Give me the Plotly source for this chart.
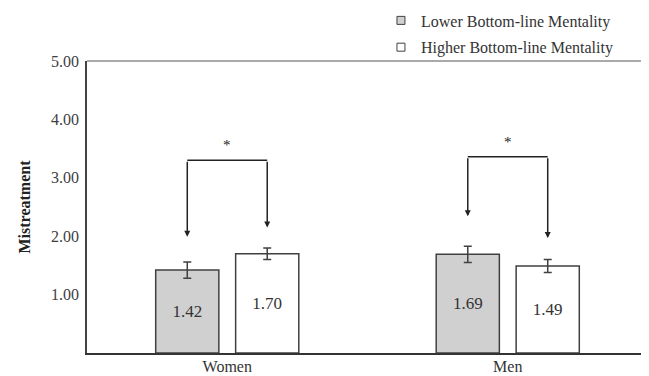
import plotly.graph_objects as go

# ---- data ----
categories = ["Women", "Men"]
series_names = ["Lower Bottom-line Mentality", "Higher Bottom-line Mentality"]
lower_values = [1.42, 1.69]
higher_values = [1.70, 1.49]
lower_err = [0.14, 0.14]
higher_err = [0.10, 0.11]
y_tickvals = [1, 2, 3, 4, 5]
y_ticktext = ["1.00", "2.00", "3.00", "4.00", "5.00"]
# significance brackets: top of bracket, left arrow tip, right arrow tip
bracket_top = [3.30, 3.36]
bracket_left_tip = [1.99, 2.34]
bracket_right_tip = [2.15, 1.97]
sig_labels = ["*", "*"]

FONT = "Liberation Serif"
fill_colors = ["#d0d0d0", "#ffffff"]
edge = "#404040"

fig = go.Figure()
for name, vals, errs, col in zip(series_names, [lower_values, higher_values],
                                  [lower_err, higher_err], fill_colors):
    fig.add_trace(go.Bar(
        x=categories, y=vals, name=name, showlegend=False,
        marker=dict(color=col, line=dict(color=edge, width=1.5)),
        error_y=dict(type="data", array=errs, visible=True, color=edge,
                     thickness=1.5, width=4),
        texttemplate="%{y:.2f}", textposition="inside", insidetextanchor="middle",
        textangle=0, constraintext="none",
        textfont=dict(family=FONT, size=17, color="#333333"),
    ))
    # legend proxy
    fig.add_trace(go.Scatter(
        x=[None], y=[None], mode="markers", name=name, legendgroup=name,
        marker=dict(symbol="square", size=8, color=col, line=dict(color=edge, width=1)),
    ))

# bracket geometry in category units
bargap = 0.43
slot = (1 - bargap) / 2
offs = [-slot / 2, slot / 2]
for i in range(len(categories)):
    xl = i + offs[0]
    xr = i + offs[1]
    top = bracket_top[i]
    fig.add_shape(type="line", xref="x", yref="y", x0=xl, x1=xr, y0=top, y1=top,
                  line=dict(color="#222222", width=1.5))
    for xx, tip in [(xl, bracket_left_tip[i]), (xr, bracket_right_tip[i])]:
        fig.add_annotation(x=xx, y=tip, ax=xx, ay=top, xref="x", yref="y",
                           axref="x", ayref="y", text="", showarrow=True,
                           arrowhead=2, arrowsize=0.8, arrowwidth=1.5,
                           arrowcolor="#222222")
    fig.add_annotation(x=i, y=top + 0.26, xref="x", yref="y", text=sig_labels[i],
                       showarrow=False, font=dict(family=FONT, size=15, color="#222222"))

# top and right border
fig.add_shape(type="line", xref="paper", yref="paper", x0=0, x1=1, y0=1, y1=1,
              line=dict(color="#555555", width=1))
fig.add_shape(type="line", xref="paper", yref="paper", x0=1, x1=1, y0=0, y1=1,
              line=dict(color="#555555", width=1))

# the page body has an 8px default margin, so the figure is sized to fit after it
fig.update_layout(
    width=641, height=368,
    margin=dict(l=79, r=1, t=53, b=23, autoexpand=False),
    paper_bgcolor="white", plot_bgcolor="white",
    barmode="group", bargap=bargap, bargroupgap=0.21,
    font=dict(family=FONT, size=16, color="#333333"),
    showlegend=True,
    legend=dict(x=0.524, y=1.197, xanchor="left", yanchor="top",
                bgcolor="rgba(0,0,0,0)", tracegroupgap=3,
                font=dict(family=FONT, size=16, color="#333333"),
                itemwidth=30),
    xaxis=dict(type="category", showgrid=False, zeroline=False, showline=True,
               linecolor="#333333", linewidth=2, ticks="", automargin=False,
               ticklabelstandoff=-2,
               tickfont=dict(family=FONT, size=16, color="#333333")),
    yaxis=dict(range=[0, 5], tickvals=y_tickvals, ticktext=y_ticktext,
               showgrid=False, zeroline=False, showline=True, automargin=False,
               linecolor="#444444", linewidth=1.5, ticks="",
               ticklabelstandoff=3,
               tickfont=dict(family=FONT, size=16, color="#404040"),
               title=dict(text="<b>Mistreatment</b>", standoff=16,
                          font=dict(family=FONT, size=16, color="#222222"))),
)

fig.write_html("out.html")
